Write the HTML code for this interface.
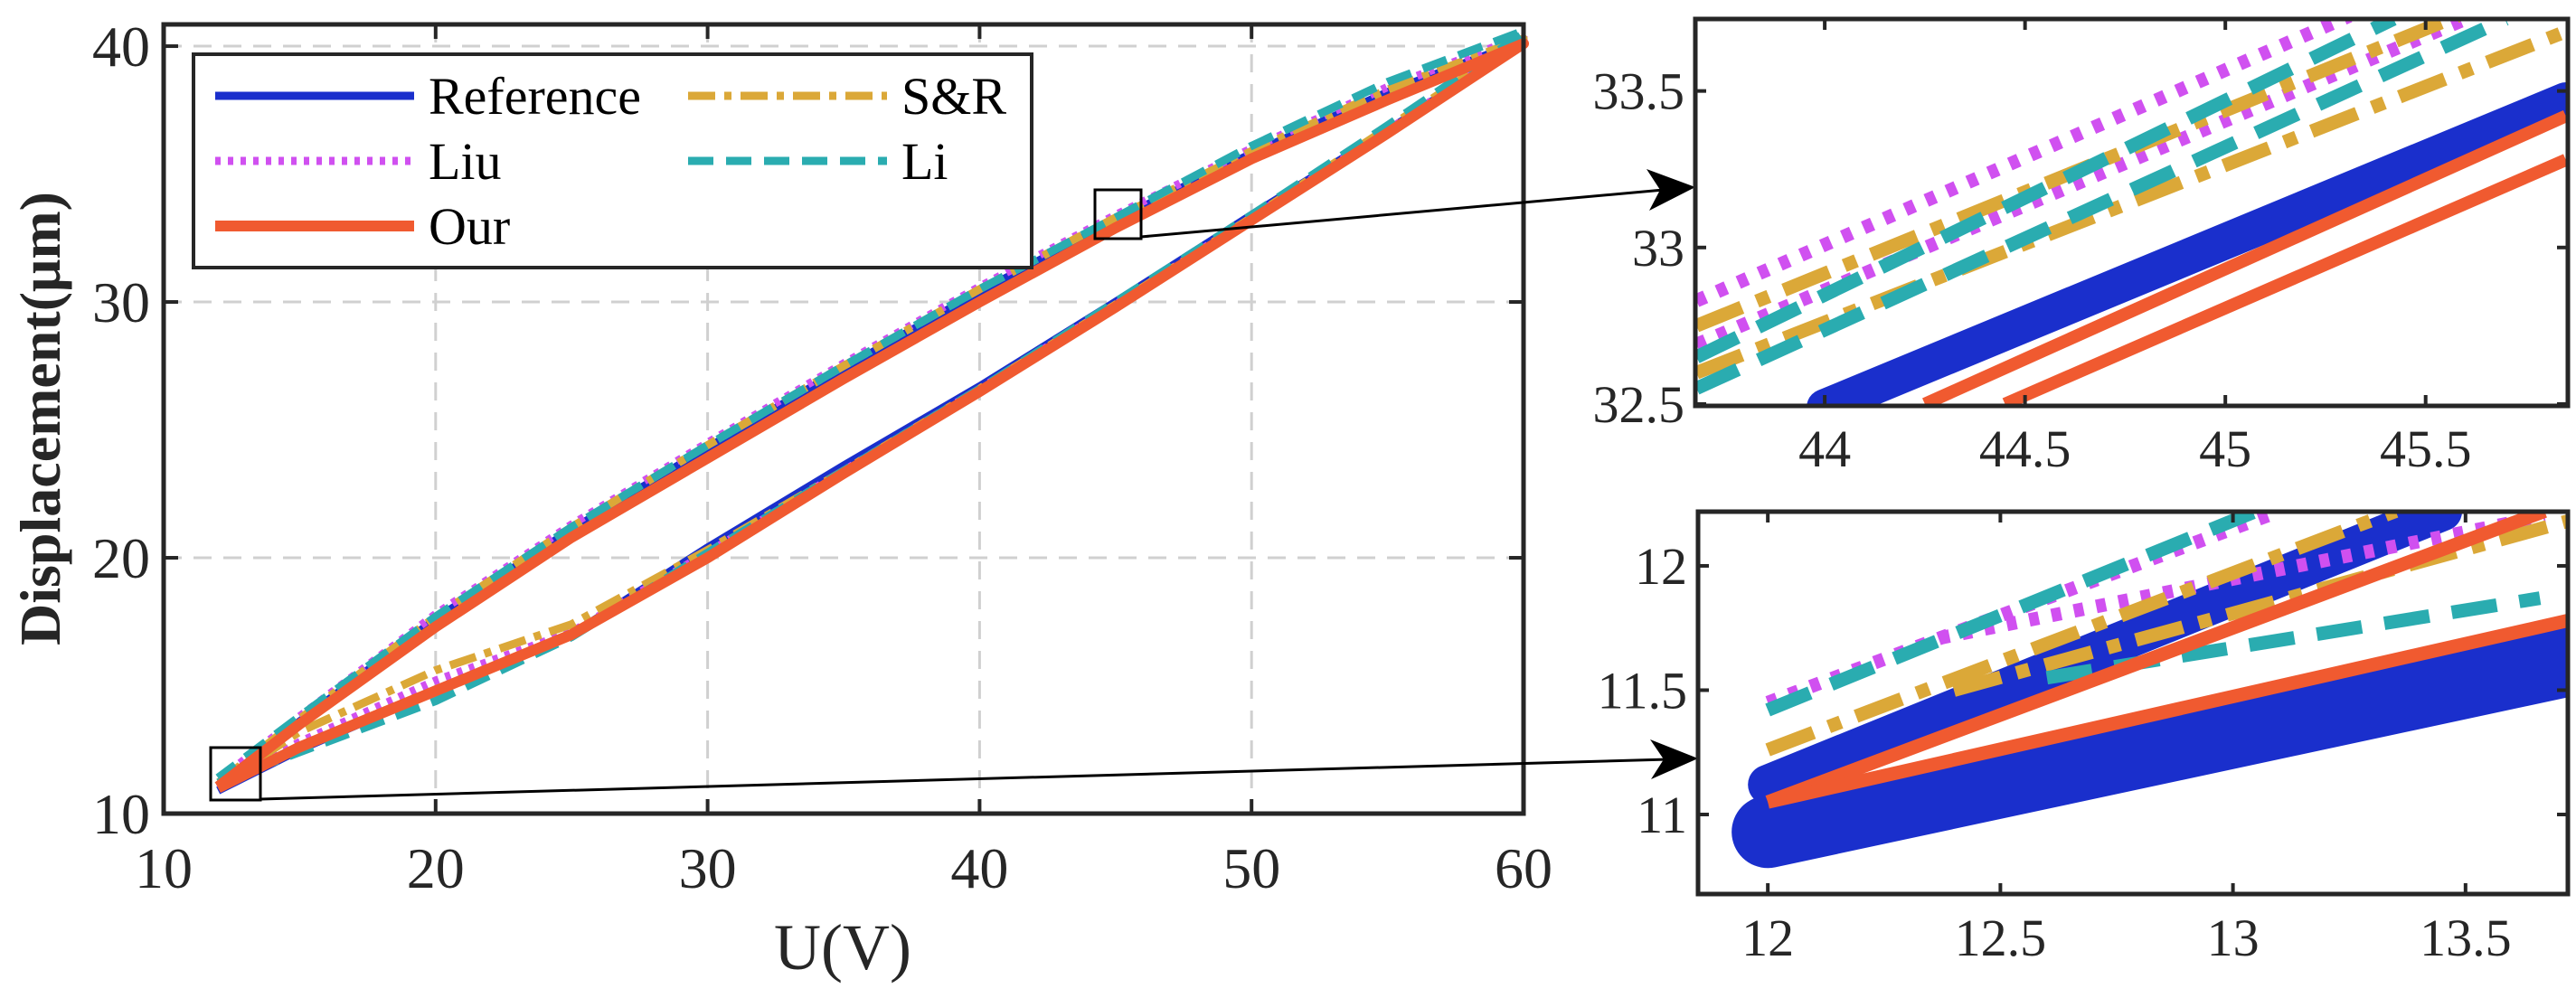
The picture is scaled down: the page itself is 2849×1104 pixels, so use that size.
<!DOCTYPE html>
<html><head><meta charset="utf-8"><style>
html,body{margin:0;padding:0;background:#fff;}
svg{display:block;font-family:"Liberation Serif",serif;}
</style></head><body>
<svg id="chart" width="2849" height="1104" viewBox="0 0 2849 1104" xmlns="http://www.w3.org/2000/svg"></svg>
<script>
// ---------- main chart data ----------
const voltages = [12,15,20,25,30,35,40,45,50,55,60];
const refAsc  = [10.9,12.5,14.8,17.0,20.4,23.6,26.7,30.0,33.4,36.7,40.2];
const refDesc = [11.1,13.6,17.6,21.1,24.3,27.4,30.4,33.2,35.8,38.2,40.2];
const ourAsc  = [11.0,12.6,14.8,17.0,20.0,23.3,26.5,29.8,33.2,36.6,40.1];
const ourDesc = [11.05,13.5,17.3,20.8,23.9,27.0,30.0,32.9,35.6,37.9,40.1];
const liuAsc  = [11.0,12.8,15.2,17.1,20.2,23.4,26.6,29.9,33.3,36.7,40.3];
const liuDesc = [11.3,13.8,17.8,21.3,24.5,27.6,30.6,33.4,36.0,38.4,40.4];
const srAsc   = [11.1,13.2,15.6,17.4,20.3,23.4,26.6,29.9,33.3,36.8,40.3];
const srDesc  = [11.2,13.7,17.7,21.2,24.4,27.5,30.5,33.3,35.9,38.3,40.3];
const liAsc   = [11.2,12.4,14.4,16.9,20.2,23.4,26.6,30.0,33.4,36.9,40.5];
const liDesc  = [11.4,13.8,17.7,21.2,24.4,27.5,30.5,33.3,36.1,38.6,40.6];
const xTicks = [10,20,30,40,50,60];
const yTicks = [10,20,30,40];
// ---------- inset 1 data (segments: x0,y0,x1,y1) ----------
const in1XTicks = [44,44.5,45,45.5];
const in1YTicks = [32.5,33,33.5];
const in1Ref = [[44.0,32.49,45.85,33.47]];
const in1Our = [[44.25,32.5,45.85,33.42],[44.45,32.5,45.85,33.28]];
const in1Liu = [[43.68,32.83,45.31,33.74],[43.68,32.69,45.6,33.73]];
const in1SR  = [[43.68,32.75,45.58,33.74],[43.68,32.6,45.85,33.69]];
const in1Li  = [[43.68,32.65,45.42,33.73],[43.68,32.55,45.70,33.73]];
// ---------- inset 2 data ----------
const in2XTicks = [12,12.5,13,13.5];
const in2YTicks = [11,11.5,12];
const in2RefLow = [[12.0,10.93,13.72,11.62]];
const in2RefUp  = [[12.0,11.12,13.45,12.22]];
const in2Our = [[12.0,11.05,13.67,12.22],[12.0,11.05,13.72,11.78]];
const in2Liu = [[12.0,11.45,13.1,12.22],[12.37,11.71,13.67,12.2]];
const in2SR  = [[12.0,11.26,13.35,12.22],[12.4,11.5,13.72,12.18]];
const in2Li  = [[12.0,11.42,13.05,12.22],[12.6,11.55,13.66,11.87]];

const NS="http://www.w3.org/2000/svg";
const svg=document.getElementById('chart');
function mk(tag,attrs,parent){const e=document.createElementNS(NS,tag);for(const k in attrs)e.setAttribute(k,attrs[k]);(parent||svg).appendChild(e);return e;}
const C={ref:'#1a2fcc',liu:'#d050f0',our:'#f05a30',sr:'#dba838',li:'#2aacb0'};
const styles={
 ref:{stroke:C.ref,w:9,dash:''},
 liu:{stroke:C.liu,w:9,dash:'6 8'},
 our:{stroke:C.our,w:12,dash:''},
 sr:{stroke:C.sr,w:9,dash:'30 10 8 10'},
 li:{stroke:C.li,w:9,dash:'28 14'}
};

// ---------- main axes ----------
const M={l:181,r:1685,t:27,b:900,x0:10,x1:60,y0:10,y1:40.85};
const mx=v=>M.l+(v-M.x0)/(M.x1-M.x0)*(M.r-M.l);
const my=v=>M.b-(v-M.y0)/(M.y1-M.y0)*(M.b-M.t);
const gMain=mk('g',{});


xTicks.forEach(t=>{
 if(t>M.x0&&t<M.x1){const g=mk('line',{x1:mx(t),x2:mx(t),y1:M.t,y2:M.b,stroke:'#d0d0d0','stroke-width':3,'stroke-dasharray':'20 13'},gMain);
 }
 const tx=mk('text',{x:mx(t),y:982,'font-size':64,'text-anchor':'middle',fill:'#262626'},gMain);tx.textContent=t;
 
 mk('line',{x1:mx(t),x2:mx(t),y1:M.b,y2:M.b-16,stroke:'#262626','stroke-width':4},gMain);
 mk('line',{x1:mx(t),x2:mx(t),y1:M.t,y2:M.t+16,stroke:'#262626','stroke-width':4},gMain);
});
yTicks.forEach(t=>{
 if(t>M.y0){const g=mk('line',{x1:M.l,x2:M.r,y1:my(t),y2:my(t),stroke:'#d0d0d0','stroke-width':3,'stroke-dasharray':'20 13'},gMain);
 }
 const tx=mk('text',{x:166,y:my(t)+22,'font-size':64,'text-anchor':'end',fill:'#262626'},gMain);tx.textContent=t;
 
 mk('line',{x1:M.l,x2:M.l+16,y1:my(t),y2:my(t),stroke:'#262626','stroke-width':4},gMain);
 mk('line',{x1:M.r,x2:M.r-16,y1:my(t),y2:my(t),stroke:'#262626','stroke-width':4},gMain);
});
function seriesPath(asc,desc,key,fx,fy){
 const pts=[];voltages.forEach((u,i)=>pts.push(fx(u).toFixed(1)+','+fy(asc[i]).toFixed(1)));
 for(let i=voltages.length-1;i>=0;i--)pts.push(fx(voltages[i]).toFixed(1)+','+fy(desc[i]).toFixed(1));
 const s=styles[key];
 const p=mk('polyline',{points:pts.join(' '),fill:'none',stroke:s.stroke,'stroke-width':s.w,'stroke-dasharray':s.dash,'stroke-linejoin':'round'},gMain);
 
 
}
seriesPath(refAsc,refDesc,'ref',mx,my);
seriesPath(liuAsc,liuDesc,'liu',mx,my);
seriesPath(srAsc,srDesc,'sr',mx,my);
seriesPath(liAsc,liDesc,'li',mx,my);
seriesPath(ourAsc,ourDesc,'our',mx,my);
const fr=mk('rect',{x:M.l,y:M.t,width:M.r-M.l,height:M.b-M.t,fill:'none',stroke:'#262626','stroke-width':5},gMain);


// axis labels
const xl=mk('text',{x:932,y:1072,'font-size':72,'text-anchor':'middle',fill:'#262626'});xl.textContent='U(V)';

const yl=mk('text',{x:0,y:0,'font-size':64,'font-weight':'bold','text-anchor':'middle',fill:'#262626',transform:'translate(66,463) rotate(-90)'});yl.textContent='Displacement(μm)';


// zoom boxes and arrows
const zb1=mk('rect',{x:1211,y:210,width:51,height:54,fill:'none',stroke:'#000','stroke-width':3});

const zb2=mk('rect',{x:233,y:827,width:55,height:58,fill:'none',stroke:'#000','stroke-width':3});

const a1=mk('line',{x1:1262,y1:262,x2:1840,y2:210,stroke:'#000','stroke-width':3});

mk('polygon',{points:'1875,207 1821,187 1836,210 1824,233',fill:'#000'});
const a2=mk('line',{x1:288,y1:884,x2:1845,y2:840,stroke:'#000','stroke-width':3});

mk('polygon',{points:'1878,839 1825,818 1840,840 1826,862',fill:'#000'});

// legend
const lg=mk('g',{});

mk('rect',{x:214,y:60,width:927,height:236,fill:'#fff',stroke:'#262626','stroke-width':4},lg);
const legendEntries=[['ref','Reference',238,106],['liu','Liu',238,178],['our','Our',238,250],['sr','S&R',761,106],['li','Li',761,178]];
legendEntries.forEach(([k,lab,x,y])=>{
 const s=styles[k];
 const g=mk('g',{},lg);
 
 
 mk('line',{x1:x,x2:x+220,y1:y,y2:y,stroke:s.stroke,'stroke-width':s.w,'stroke-dasharray':s.dash},g);
 const t=mk('text',{x:x+236,y:y+20,'font-size':58,fill:'#000'},g);t.textContent=lab;
});

// ---------- insets ----------
function inset(name,box,xr,yr,xt,yt,layers,xLabY){
 const g=mk('g',{});
 
 
 const fx=v=>box.l+(v-xr[0])/(xr[1]-xr[0])*(box.r-box.l);
 const fy=v=>box.b-(v-yr[0])/(yr[1]-yr[0])*(box.b-box.t);
 const cid=name+'-clip';
 const cp=mk('clipPath',{id:cid},g);mk('rect',{x:box.l,y:box.t,width:box.r-box.l,height:box.b-box.t},cp);
 const pg=mk('g',{'clip-path':'url(#'+cid+')'},g);
 layers.forEach(([segs,key,w])=>{
  const s=styles[key];
  segs.forEach(sg=>{
   const l=mk('line',{x1:fx(sg[0]),y1:fy(sg[1]),x2:fx(sg[2]),y2:fy(sg[3]),stroke:s.stroke,'stroke-width':w,'stroke-dasharray':s.dash?s.dash.split(' ').map(n=>n*1.8).join(' '):'','stroke-linecap':key==='ref'?'round':'butt'},pg);
   
   
  });
 });
 xt.forEach(t=>{
  mk('line',{x1:fx(t),x2:fx(t),y1:box.b,y2:box.b-12,stroke:'#262626','stroke-width':4},g);
  mk('line',{x1:fx(t),x2:fx(t),y1:box.t,y2:box.t+12,stroke:'#262626','stroke-width':4},g);
  const tx=mk('text',{x:fx(t),y:xLabY,'font-size':58,'text-anchor':'middle',fill:'#262626'},g);tx.textContent=t;
  
 });
 yt.forEach(t=>{
  mk('line',{x1:box.l,x2:box.l+12,y1:fy(t),y2:fy(t),stroke:'#262626','stroke-width':4},g);
  mk('line',{x1:box.r,x2:box.r-12,y1:fy(t),y2:fy(t),stroke:'#262626','stroke-width':4},g);
  const tx=mk('text',{x:box.l-12,y:fy(t)+20,'font-size':58,'text-anchor':'end',fill:'#262626'},g);tx.textContent=t;
  
 });
 mk('rect',{x:box.l,y:box.t,width:box.r-box.l,height:box.b-box.t,fill:'none',stroke:'#262626','stroke-width':5},g);
}
inset('inset-upper',{l:1875,r:2840,t:21,b:449},[43.677,45.855],[32.494,33.73],in1XTicks,in1YTicks,
 [[in1Ref,'ref',40],[in1Liu,'liu',15],[in1SR,'sr',15],[in1Li,'li',15],[in1Our,'our',14]],516);
inset('inset-lower',{l:1878,r:2840,t:566,b:989},[11.85,13.72],[10.68,12.218],in2XTicks,in2YTicks,
 [[in2RefLow,'ref',80],[in2RefUp,'ref',44],[in2Liu,'liu',15],[in2SR,'sr',15],[in2Li,'li',15],[in2Our,'our',15]],1057);
</script>
</body></html>
